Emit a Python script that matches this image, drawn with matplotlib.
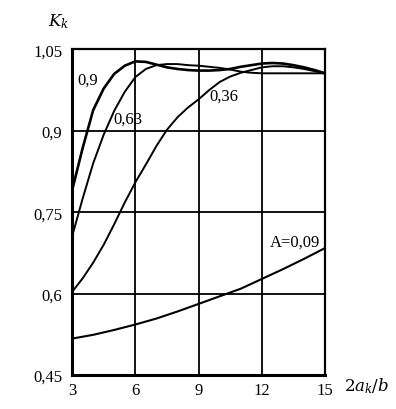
import matplotlib
matplotlib.use("Agg")
import matplotlib.pyplot as plt

x_pts = [3, 3.5, 4, 4.5, 5, 5.5, 6, 6.5, 7, 7.5, 8, 8.5, 9, 9.5, 10, 10.5,
         11, 11.5, 12, 12.5, 13, 13.5, 14, 14.5, 15]
k_090 = [0.79, 0.868, 0.938, 0.978, 1.005, 1.020, 1.028, 1.027, 1.022, 1.017,
         1.014, 1.012, 1.011, 1.011, 1.012, 1.014, 1.018, 1.021, 1.024, 1.025,
         1.024, 1.021, 1.017, 1.012, 1.006]
k_063 = [0.705, 0.775, 0.840, 0.893, 0.937, 0.972, 0.999, 1.014, 1.021, 1.023,
         1.023, 1.021, 1.020, 1.018, 1.016, 1.013, 1.009, 1.007, 1.006, 1.006,
         1.006, 1.006, 1.006, 1.006, 1.006]
k_036 = [0.603, 0.628, 0.657, 0.690, 0.728, 0.768, 0.805, 0.838, 0.872, 0.902,
         0.925, 0.943, 0.958, 0.975, 0.990, 1.000, 1.007, 1.012, 1.017, 1.019,
         1.019, 1.017, 1.014, 1.010, 1.006]
x_009 = [3, 4, 5, 6, 7, 8, 9, 10, 11, 12, 13, 14, 15]
k_009 = [0.517, 0.524, 0.533, 0.543, 0.554, 0.567, 0.581, 0.595, 0.609,
         0.627, 0.645, 0.664, 0.684]

x_ticks = [3, 6, 9, 12, 15]
x_labels = ["3", "6", "9", "12", "15"]
y_ticks = [0.45, 0.6, 0.75, 0.9, 1.05]
y_labels = ["0,45", "0,6", "0,75", "0,9", "1,05"]

plt.rcParams['font.family'] = ['Liberation Serif', 'DejaVu Serif']

fig = plt.figure(figsize=(3.96, 4.10), dpi=100)
ax = fig.add_axes([0.182, 0.083, 0.639, 0.794])
ax.set_xlim(3, 15)
ax.set_ylim(0.45, 1.05)

for xv in x_ticks[1:-1]:
    ax.axvline(xv, color='black', lw=1.3, zorder=1)
for yv in y_ticks[1:-1]:
    ax.axhline(yv, color='black', lw=1.3, zorder=1)

ax.plot(x_pts, k_090, color='black', lw=1.9, zorder=3)
ax.plot(x_pts, k_063, color='black', lw=1.4, zorder=3)
ax.plot(x_pts, k_036, color='black', lw=1.4, zorder=3)
ax.plot(x_009, k_009, color='black', lw=1.5, zorder=3)

for s in ax.spines.values():
    s.set_linewidth(1.6)
ax.spines['left'].set_linewidth(2.2)
ax.spines['bottom'].set_linewidth(2.2)

ax.set_xticks(x_ticks)
ax.set_xticklabels(x_labels, fontsize=12)
ax.set_yticks(y_ticks)
ax.set_yticklabels(y_labels, fontsize=12)
ax.tick_params(axis='y', length=0, pad=7)
ax.tick_params(axis='x', length=0, pad=5)

fs = 12
ax.text(3.75, 0.995, "0,9", fontsize=fs, ha='center', va='center', zorder=4,
        bbox=dict(facecolor='white', edgecolor='none', pad=0.5))
ax.text(5.65, 0.922, "0,63", fontsize=fs, ha='center', va='center', zorder=4)
ax.text(10.2, 0.965, "0,36", fontsize=fs, ha='center', va='center', zorder=4)
ax.text(13.55, 0.695, "A=0,09", fontsize=fs, ha='center', va='center', zorder=4)

fig.text(0.147, 0.948, r"$K_k$", fontsize=12, ha='center', va='center',
         math_fontfamily='dejavuserif')
fig.text(0.925, 0.057, r"$2a_k/b$", fontsize=12, ha='center', va='center',
         math_fontfamily='dejavuserif')

fig.savefig("out.png", dpi=100)
